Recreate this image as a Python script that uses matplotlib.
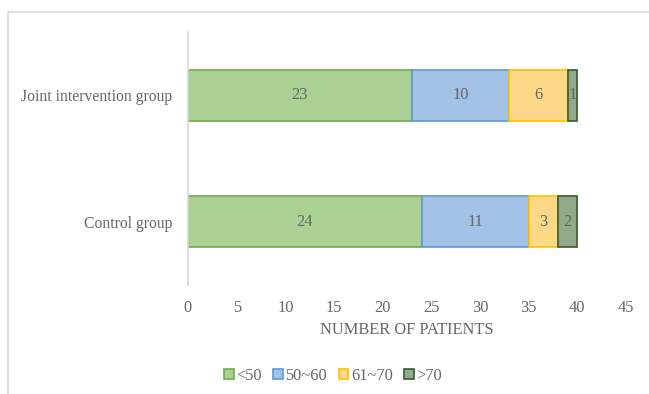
import matplotlib.pyplot as plt
import numpy as np

# age bands (years) per group, number of patients
groups = ['Control group', 'Joint intervention group']
bands = ['<50', '50~60', '61~70', '>70']
counts = {
    '<50': [24, 23],
    '50~60': [11, 10],
    '61~70': [3, 6],
    '>70': [2, 1],
}

fills = ['#abd094', '#a4c2e6', '#fdd886', '#92a98a']
edges = ['#70ad47', '#5b9bd5', '#ffc000', '#3b5a2a']
txt = '#666666'
fs = 11.8

plt.rcParams['font.family'] = ['Liberation Serif', 'DejaVu Serif']

fig = plt.figure(figsize=(6.49, 3.94), dpi=100)
ax = fig.add_axes([188 / 649, 1 - 285 / 394, (626 - 188) / 649, (285 - 32) / 394])

# chart area frame (only top and left edges show)
fig.add_artist(plt.Line2D([8 / 649, 8 / 649], [0, 1 - 12 / 394], transform=fig.transFigure,
                          color='#d9d9d9', lw=1.2))
fig.add_artist(plt.Line2D([8 / 649, 1], [1 - 12 / 394, 1 - 12 / 394], transform=fig.transFigure,
                          color='#d9d9d9', lw=1.2))

y = np.arange(len(groups))
left = np.zeros(len(groups))
for band, fc, ec in zip(bands, fills, edges):
    vals = np.array(counts[band])
    bars = ax.barh(y, vals, left=left, height=0.4, color=fc, edgecolor=ec, lw=1.2, label=band)
    for b, v in zip(bars, vals):
        ax.text(b.get_x() + b.get_width() / 2, b.get_y() + b.get_height() / 2, str(v),
                ha='center', va='center', color=txt, fontsize=fs)
    left += vals

ax.set_xlim(0, 45)
ax.set_ylim(-0.5, 1.5)
ax.set_xticks(range(0, 46, 5))
ax.set_yticks(y)
ax.set_yticklabels(groups, fontsize=11.3)
ax.tick_params(axis='both', length=0, colors=txt)
ax.tick_params(axis='x', pad=11, labelsize=fs)
ax.tick_params(axis='y', pad=11)
for s in ['top', 'right', 'bottom']:
    ax.spines[s].set_visible(False)
ax.spines['left'].set_color('#d9d9d9')
ax.spines['left'].set_linewidth(1.2)
ax.set_xlabel('NUMBER OF PATIENTS', color=txt, fontsize=fs, labelpad=4)

leg = fig.legend(loc='center', bbox_to_anchor=(333 / 649, 1 - 376 / 394), ncol=4, frameon=False,
                 fontsize=fs, handlelength=0.6, handleheight=0.6, handletextpad=0.15,
                 columnspacing=0.7, labelcolor=txt)

fig.savefig('out.png', dpi=100, facecolor='white')
